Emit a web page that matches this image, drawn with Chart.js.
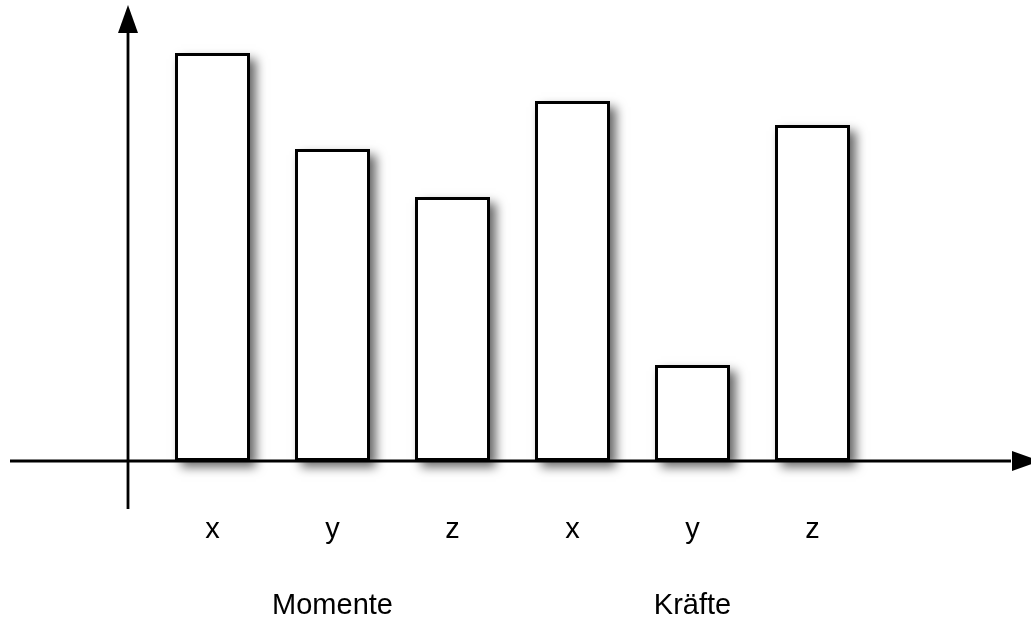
<!DOCTYPE html>
<html>
<head>
<meta charset="utf-8">
<title>Momente und Kräfte</title>
<script src="https://cdn.jsdelivr.net/npm/chart.js@4"></script>
<style>
  html, body { margin: 0; padding: 0; background: #fff; }
  #wrap { width: 1031px; height: 624px; position: relative; }
</style>
</head>
<body>
<div id="wrap"><canvas id="bars"></canvas></div>
<script>
// Data (units of one grid step)
const axisLabels = ['x', 'y', 'z', 'x', 'y', 'z'];
const groupLabels = ['Momente', 'Kräfte'];
const groupCenterIndex = [1, 4];
const values = [17, 13, 11, 15, 4, 14];
const yMax = 18;

// Build multi-line tick labels: axis letter, then group name under the middle bar
const tickLabels = axisLabels.map((lab, i) => {
  const g = groupCenterIndex.indexOf(i);
  return g >= 0 ? [lab, '', groupLabels[g]] : [lab];
});

// Drop shadow behind the bars (the bar element clips itself, so paint it first)
const barShadow = {
  id: 'barShadow',
  beforeDatasetsDraw(chart) {
    const ctx = chart.ctx;
    const meta = chart.getDatasetMeta(0);
    ctx.save();
    ctx.shadowColor = 'rgba(0, 0, 0, 0.6)';
    ctx.shadowBlur = 10;
    ctx.shadowOffsetX = 6;
    ctx.shadowOffsetY = 6;
    ctx.fillStyle = '#fff';
    meta.data.forEach(bar => {
      const { x, y, base, width } = bar.getProps(['x', 'y', 'base', 'width'], true);
      ctx.fillRect(x - width / 2, y, width, base - y);
    });
    ctx.restore();
  }
};

// Axis lines with arrow heads
const arrowAxes = {
  id: 'arrowAxes',
  afterDatasetsDraw(chart) {
    const ctx = chart.ctx;
    const area = chart.chartArea;
    const y0 = chart.scales.y.getPixelForValue(0);
    const ax = area.left - 24.5;   // y axis sits left of the first bar
    const head = 28, half = 10;

    ctx.save();
    ctx.strokeStyle = '#000';
    ctx.fillStyle = '#000';
    ctx.lineWidth = 2.8;

    // horizontal axis
    ctx.beginPath();
    ctx.moveTo(10, y0);
    ctx.lineTo(chart.width - 20, y0);
    ctx.stroke();
    const tipX = chart.width + 9;
    ctx.beginPath();
    ctx.moveTo(tipX, y0);
    ctx.lineTo(tipX - head, y0 - half);
    ctx.lineTo(tipX - head, y0 + half);
    ctx.closePath();
    ctx.fill();

    // vertical axis
    ctx.beginPath();
    ctx.moveTo(ax, y0 + 48);
    ctx.lineTo(ax, 30);
    ctx.stroke();
    ctx.beginPath();
    ctx.moveTo(ax, 5);
    ctx.lineTo(ax - half, 5 + head);
    ctx.lineTo(ax + half, 5 + head);
    ctx.closePath();
    ctx.fill();
    ctx.restore();
  }
};

const ctx = document.getElementById('bars').getContext('2d');
new Chart(ctx, {
  type: 'bar',
  data: {
    labels: tickLabels,
    datasets: [{
      data: values,
      backgroundColor: '#fff',
      borderColor: '#000',
      borderWidth: 3,
      borderSkipped: false,
      categoryPercentage: 1,
      barPercentage: 0.625
    }]
  },
  options: {
    responsive: true,
    maintainAspectRatio: false,
    animation: false,
    devicePixelRatio: 1,
    layout: {
      padding: { left: 152.5, right: 158.5, top: 29, bottom: 0 }
    },
    plugins: {
      legend: { display: false },
      tooltip: { enabled: false }
    },
    scales: {
      x: {
        grid: { display: false, drawTicks: false },
        border: { display: false },
        afterFit(scale) {
          scale.height = 163;
        },
        ticks: {
          color: '#000',
          padding: 50,
          maxRotation: 0,
          autoSkip: false,
          font: { family: "'Liberation Sans', Arial, sans-serif", size: 29, lineHeight: 1.31 }
        }
      },
      y: {
        display: false,
        min: 0,
        max: yMax
      }
    }
  },
  plugins: [barShadow, arrowAxes]
});
</script>
</body>
</html>
